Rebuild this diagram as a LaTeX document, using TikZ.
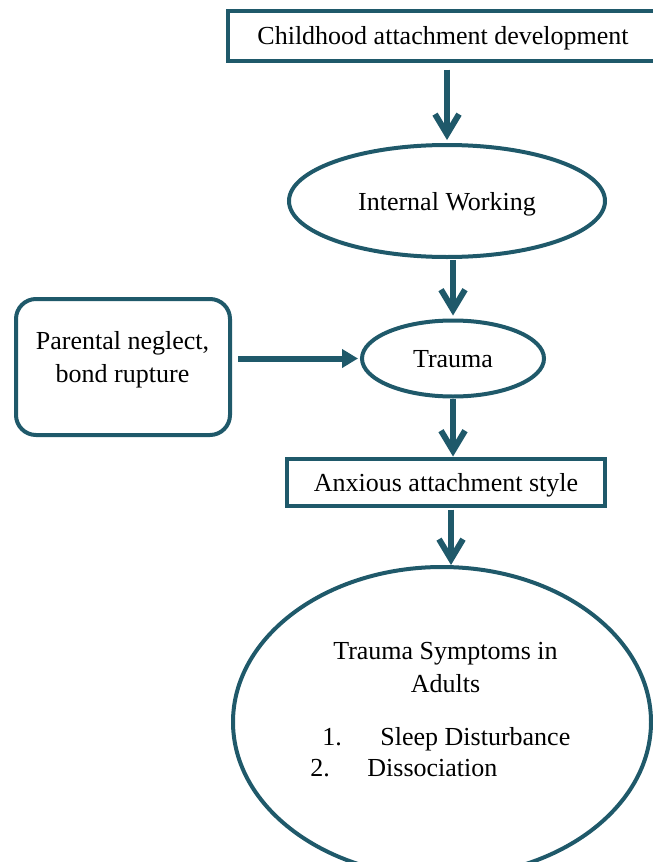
\documentclass[tikz,border=0pt]{standalone}
\usepackage{fontspec}
\setmainfont{Liberation Serif}
\usepackage{xcolor}
\usepackage{tikz}
\usetikzlibrary{arrows.meta,shapes.geometric}
\definecolor{teal1}{RGB}{31,89,106}
\tikzset{
  txt/.style={font=\fontsize{13}{16.5}\selectfont,text=black,inner sep=0pt},
  sqbox/.style={txt,draw=teal1,line width=2pt,rectangle,text depth=0pt},
  rndbox/.style={draw=teal1,line width=2pt,rectangle,rounded corners=10pt},
  oval/.style={txt,draw=teal1,line width=2pt,ellipse,inner sep=0pt,text depth=0pt},
  varr/.style={draw=teal1,line width=3pt,-{Straight Barb[length=10pt,width=12pt]}},
  harr/.style={draw=teal1,line width=3pt,-{Triangle[length=8pt,width=9pt]}}
}

\begin{document}
\begin{tikzpicture}[x=0.5pt,y=-0.5pt]
\useasboundingbox (0,0) rectangle (653,862);
\clip (0,0) rectangle (653,862);
\node[sqbox,minimum width=215pt,minimum height=25pt] (childhood) at (443,35.5) {Childhood attachment development};
\node[oval,minimum width=158pt,minimum height=56pt] (iwm) at (447,201) {Internal Working};
\node[rndbox,minimum width=107pt,minimum height=68pt] (neglect) at (123,367) {};
\node[txt,anchor=base] (neglect1) at (122.5,349) {Parental neglect,};
\node[txt,anchor=base] (neglect2) at (122.5,382) {bond rupture};
\node[oval,minimum width=91pt,minimum height=38pt] (trauma) at (453,358.5) {Trauma};
\node[sqbox,minimum width=159pt,minimum height=23.5pt] (anxious) at (446,482) {Anxious attachment style};
\node[oval,minimum width=209pt,minimum height=155pt] (symptoms) at (442,722) {};
\node[txt,anchor=base] (symtitle1) at (445.5,659) {Trauma Symptoms in};
\node[txt,anchor=base] (symtitle2) at (445.5,692) {Adults};
\node[txt,anchor=base west] (num1) at (322,745) {1.};
\node[txt,anchor=base west] (item1) at (380,745) {Sleep Disturbance};
\node[txt,anchor=base west] (num2) at (310,776) {2.};
\node[txt,anchor=base west] (item2) at (367,776) {Dissociation};
\draw[varr,shorten <=3.5pt,shorten >=1.5pt] (childhood.south -| iwm.north) -- (iwm.north);
\draw[varr,shorten <=0.5pt,shorten >=1.5pt] (iwm.south -| trauma.north) -- (trauma.north);
\draw[varr] (trauma.south) -- (trauma.south |- anxious.north);
\draw[varr,shorten <=1pt] ([xshift=2.5pt]anxious.south) -- ([xshift=2.5pt]anxious.south |- symptoms.north);
\draw[harr,shorten <=3pt,shorten >=1pt] (neglect.east |- trauma.west) -- (trauma.west);
\end{tikzpicture}
\end{document}
